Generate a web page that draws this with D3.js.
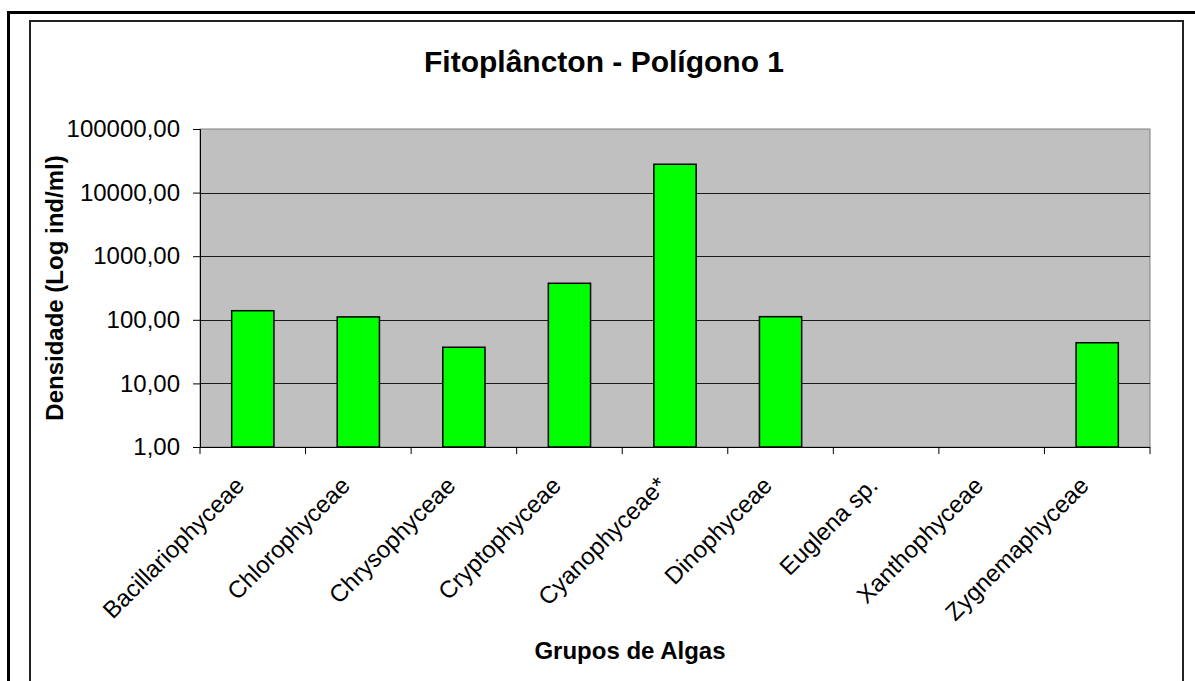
<!DOCTYPE html>
<html>
<head>
<meta charset="utf-8">
<script src="https://cdn.jsdelivr.net/npm/d3@7"></script>
<style>
  body { margin: 0; background: #fff; }
  text { font-family: "Liberation Sans", Arial, sans-serif; }
</style>
</head>
<body>
<div id="chart"></div>
<script>
// data (ind/ml)
const categories = ["Bacillariophyceae", "Chlorophyceae", "Chrysophyceae", "Cryptophyceae",
    "Cyanophyceae*", "Dinophyceae", "Euglena sp.", "Xanthophyceae", "Zygnemaphyceae"];
const densities = [139, 111, 37, 375, 27900, 112, 0, 0, 43.6];
const yTicks = [1, 10, 100, 1000, 10000, 100000];

const width = 1195, height = 681;

const svg = d3.select("#chart")
    .append("svg")
    .attr("width", width)
    .attr("height", height);

// frames
svg.append("rect")
    .attr("x", 8.5).attr("y", 12.5)
    .attr("width", 1200).attr("height", 700)
    .attr("fill", "white").attr("stroke", "black").attr("stroke-width", 3);
svg.append("rect")
    .attr("x", 30).attr("y", 21)
    .attr("width", 1153).attr("height", 700)
    .attr("fill", "white").attr("stroke", "#222").attr("stroke-width", 2);

const plot = { left: 200, right: 1150, top: 129, bottom: 447 };

const x = d3.scaleBand()
    .domain(categories)
    .range([plot.left, plot.right])
    .paddingInner(0.6)
    .paddingOuter(0.3);

const xTick = d3.scaleBand()
    .domain(categories)
    .range([plot.left, plot.right]);

const y = d3.scaleLog()
    .domain([1, 100000])
    .range([plot.bottom, plot.top]);

const locale = d3.formatLocale({ decimal: ",", thousands: ".", grouping: [3], currency: ["", ""] });
const fmt = locale.format(".2f");

// plot area
svg.append("rect")
    .attr("x", plot.left).attr("y", plot.top)
    .attr("width", plot.right - plot.left).attr("height", plot.bottom - plot.top)
    .attr("fill", "#c0c0c0")
    .attr("stroke", "#808080").attr("stroke-width", 1);

// gridlines
svg.append("g")
    .selectAll("line")
    .data(yTicks.slice(1, -1))
    .join("line")
    .attr("x1", plot.left).attr("x2", plot.right)
    .attr("y1", d => Math.round(y(d)) + 0.5).attr("y2", d => Math.round(y(d)) + 0.5)
    .attr("stroke", "#1a1a1a").attr("stroke-width", 1);

// bars
svg.append("g")
    .selectAll("rect")
    .data(categories.map((c, i) => ({ c, v: densities[i] })).filter(d => d.v > 0))
    .join("rect")
    .attr("x", d => x(d.c))
    .attr("y", d => y(d.v))
    .attr("width", x.bandwidth())
    .attr("height", d => y(1) - y(d.v))
    .attr("fill", "#00ff00")
    .attr("stroke", "black")
    .attr("stroke-width", 1.5);

// y axis
const yAxis = svg.append("g")
    .attr("transform", `translate(${plot.left},0)`)
    .call(d3.axisLeft(y).tickValues(yTicks).tickFormat(fmt).tickSize(7).tickPadding(13));
yAxis.select(".domain").attr("stroke", "black");
yAxis.selectAll("text")
    .attr("font-size", 24)
    .attr("fill", "black")
    .attr("font-family", "Liberation Sans, Arial, sans-serif");

// x axis
const xAxisG = svg.append("g")
    .attr("transform", `translate(0,${plot.bottom})`);
xAxisG.append("line")
    .attr("x1", plot.left).attr("x2", plot.right)
    .attr("y1", 0.5).attr("y2", 0.5)
    .attr("stroke", "black");
xAxisG.selectAll("line.tick")
    .data(categories.concat(["end"]))
    .join("line")
    .attr("class", "tick")
    .attr("x1", (d, i) => plot.left + i * xTick.step())
    .attr("x2", (d, i) => plot.left + i * xTick.step())
    .attr("y1", 0).attr("y2", 7)
    .attr("stroke", "black");

xAxisG.selectAll("text")
    .data(categories)
    .join("text")
    .attr("transform", d => `translate(${xTick(d) + xTick.bandwidth() / 2 - 7},40) rotate(-45)`)
    .attr("text-anchor", "end")
    .attr("font-size", 24)
    .text(d => d);

// titles
svg.append("text")
    .attr("x", 604).attr("y", 72)
    .attr("text-anchor", "middle")
    .attr("font-size", 30)
    .attr("font-weight", "bold")
    .text("Fitoplâncton - Polígono 1");

svg.append("text")
    .attr("x", 630).attr("y", 659)
    .attr("text-anchor", "middle")
    .attr("font-size", 24)
    .attr("font-weight", "bold")
    .text("Grupos de Algas");

svg.append("text")
    .attr("transform", `translate(63,${(plot.top + plot.bottom) / 2}) rotate(-90)`)
    .attr("text-anchor", "middle")
    .attr("font-size", 24)
    .attr("font-weight", "bold")
    .text("Densidade (Log ind/ml)");
</script>
</body>
</html>
